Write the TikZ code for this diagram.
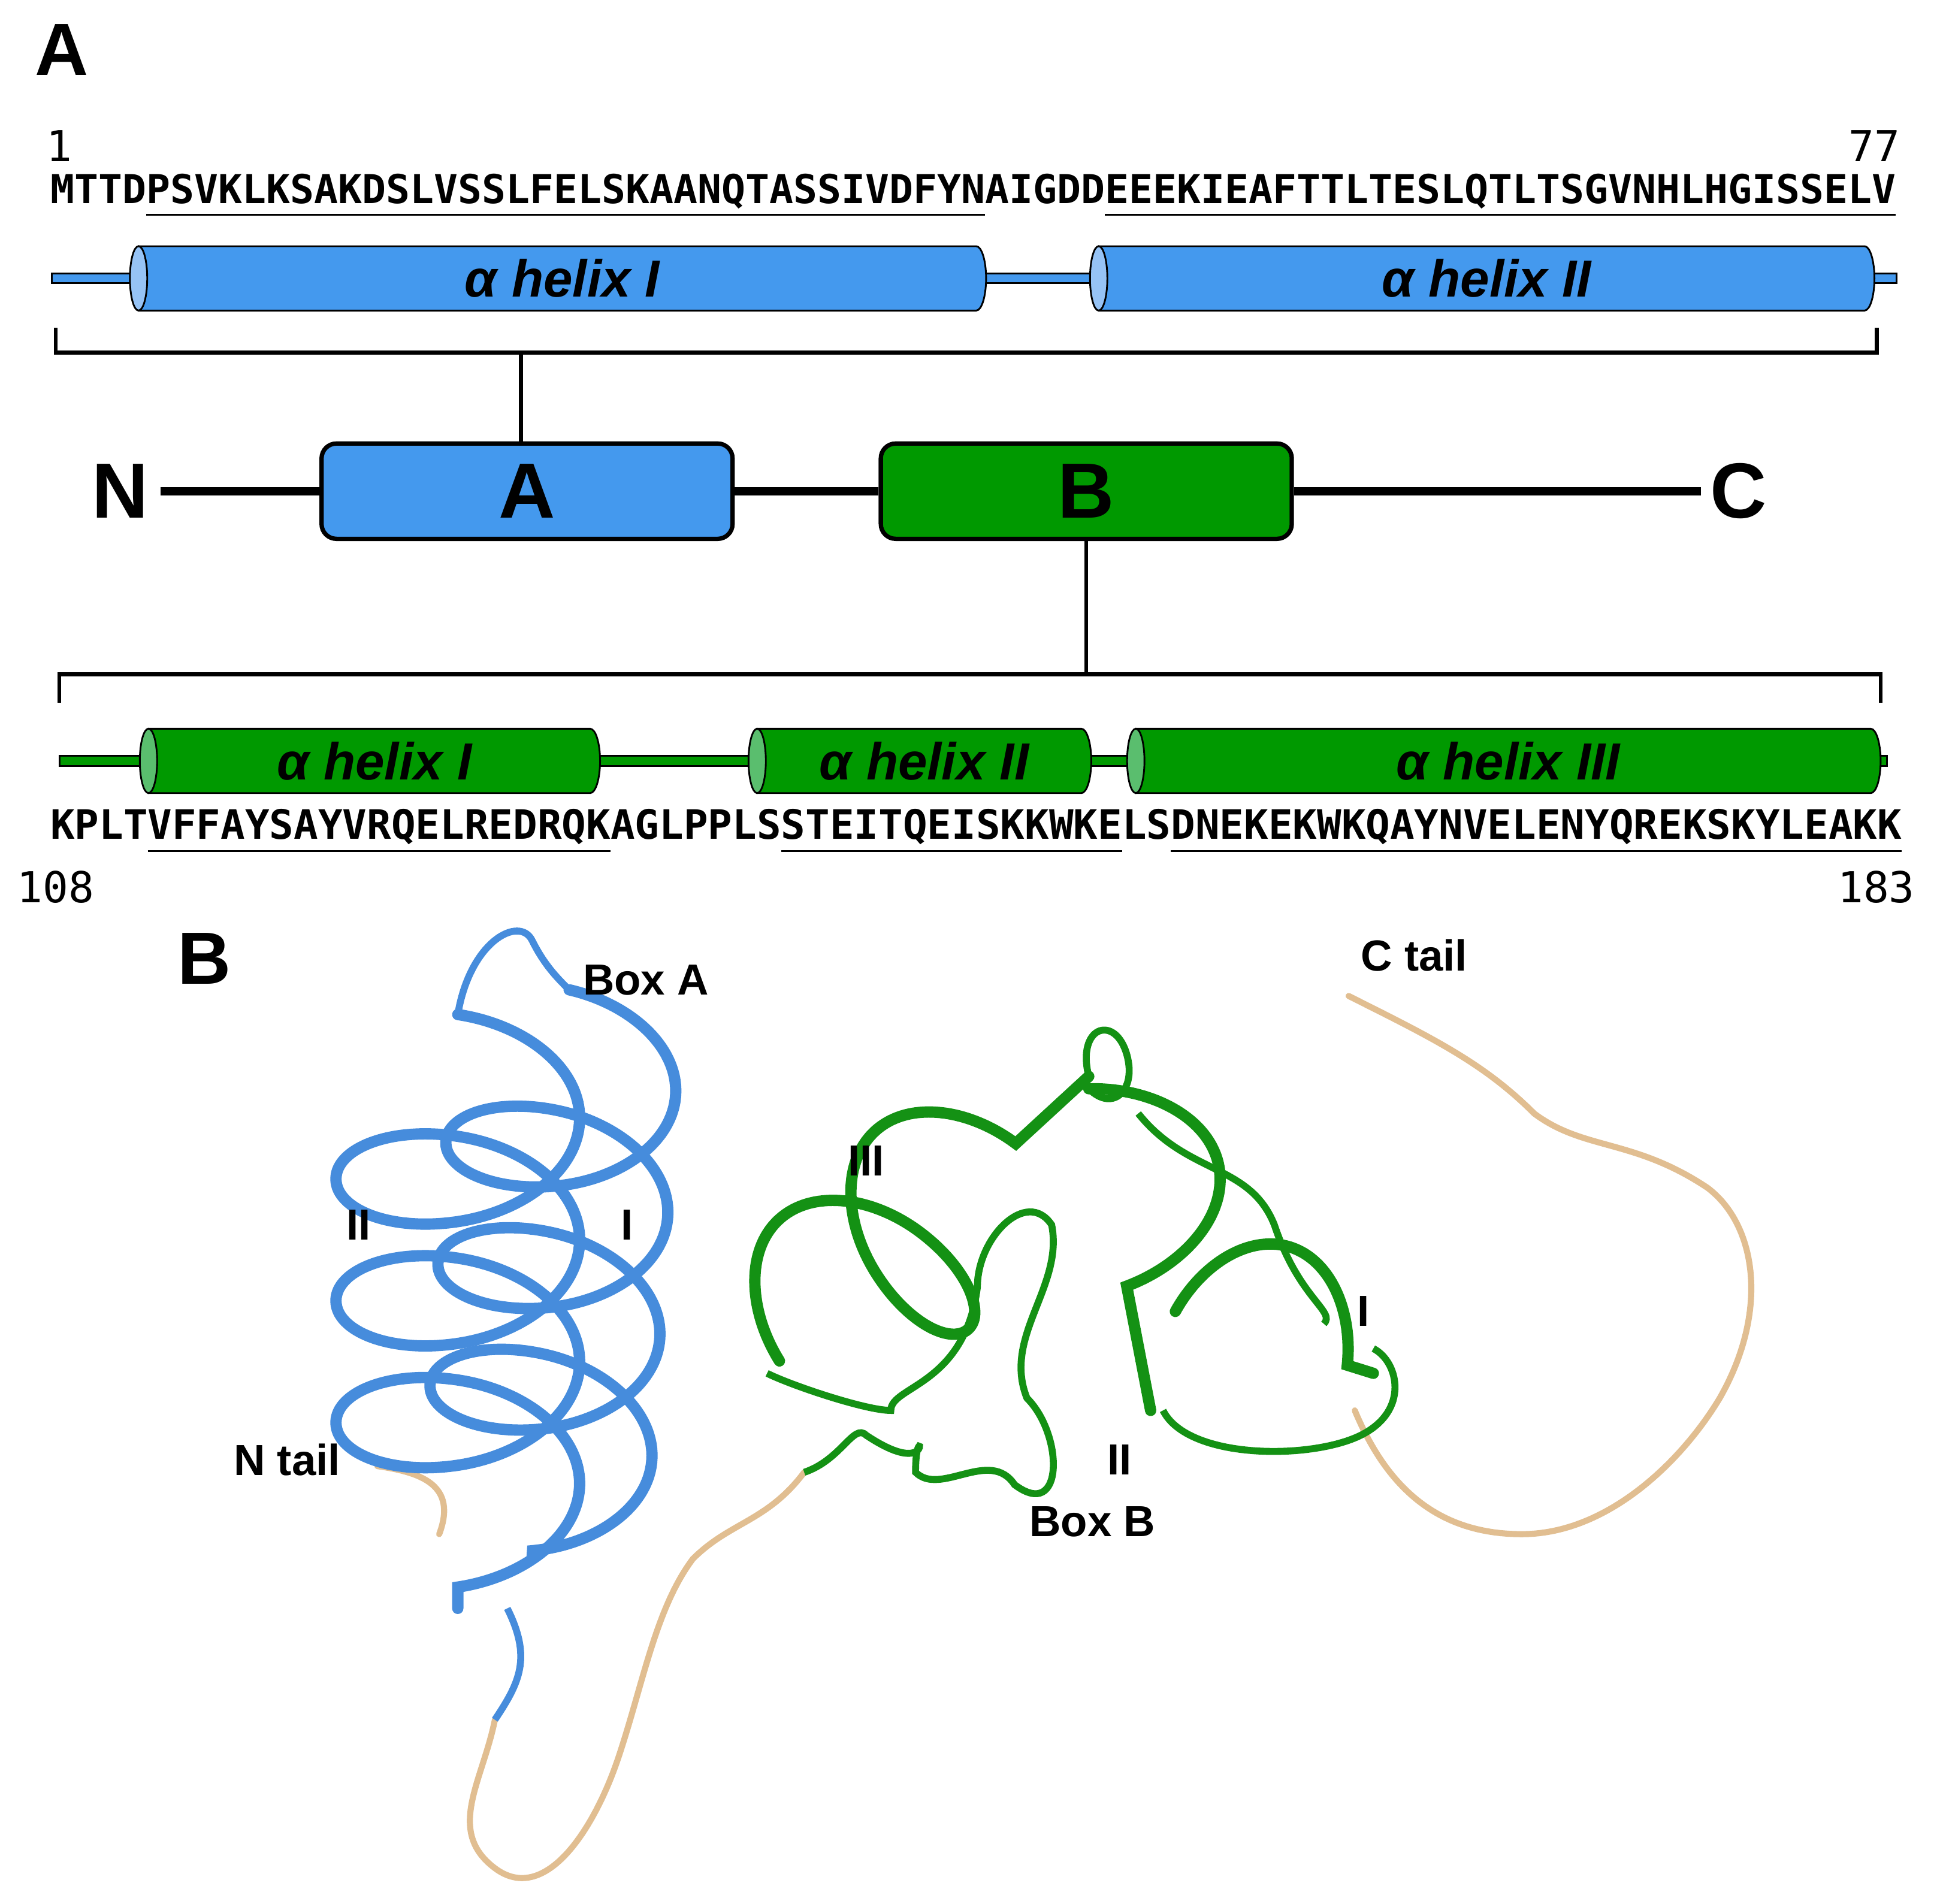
\documentclass[tikz,border=0pt]{standalone}
\usepackage{fontspec}
\setmainfont{Liberation Sans}
\newfontfamily\seqfont{DejaVu Sans Mono}
\usetikzlibrary{decorations.pathmorphing}
\definecolor{hblue}{RGB}{68,153,238}
\definecolor{lblue}{RGB}{150,195,245}
\definecolor{hgreen}{RGB}{0,153,0}
\definecolor{lgreen}{RGB}{90,190,110}
\definecolor{tanc}{RGB}{225,190,145}
\definecolor{pblue}{RGB}{70,140,220}
\definecolor{pgreen}{RGB}{20,145,20}
\newcommand\mycyl[7]{% x1,x2,yc,fill,light,label,name
  \draw[fill=#4,line width=0.4pt] (#1,#3-26) -- (#2-8,#3-26) arc[start angle=90,end angle=-90,x radius=0.08cm,y radius=0.26cm] -- (#1,#3+26) -- cycle;
  \draw[fill=#5,line width=0.4pt] (#1,#3) ellipse[x radius=0.07cm,y radius=0.26cm];
  \node[helixlab] (#7) at ({(#1+#2)/2},#3) {α helix #6};}
\begin{document}
\begin{tikzpicture}[x=0.01cm,y=-0.01cm,
  helixlab/.style={font=\fontsize{12}{14}\selectfont\bfseries\itshape},
  dom/.style={draw,line width=1pt,rounded corners=0.12cm,minimum width=3.32cm,minimum height=0.77cm,font=\fontsize{18}{20}\selectfont\bfseries},
  big/.style={font=\fontsize{18}{20}\selectfont\bfseries},
  lab/.style={font=\fontsize{10}{12}\selectfont\bfseries},
  num/.style={font=\seqfont\fontsize{9.8}{11}\selectfont},
  rod/.style={line width=0.4pt},
  brk/.style={line width=0.9pt},
  ribbon/.style={line width=2.6pt,line cap=round},
  tail/.style={draw=tanc,line width=1.4pt,line cap=round}]
\useasboundingbox (0,0) rectangle (1568,1538.5);
% Panel A
\node[font=\fontsize{17}{19}\selectfont\bfseries] (pa) at (50,40) {A};
\node[num] (n1) at (48,118) {1};
\node[num,anchor=east] (n77) at (1548,118) {77};
\node[font=\seqfont\bfseries\fontsize{9.15}{11}\selectfont,anchor=west,inner sep=0] (s1) at (40,158)
 {MTTD\underline{PSVKLKSAKDSLVSSLFELSKAANQTASSIVDFYN}AIGDD\underline{EEEKIEAFTTLTESLQTLTSGVNHLHGISSELV}};
% top helix bar
\draw[rod,fill=hblue] (42,221) rectangle (120,229);
\draw[rod,fill=hblue] (790,221) rectangle (892,229);
\draw[rod,fill=hblue] (1508,221) rectangle (1533,229);
\mycyl{112}{797}{225}{hblue}{lblue}{I}{ta1}
\mycyl{888}{1515}{225}{hblue}{lblue}{II}{ta2}
% bracket top
\draw[brk] (45,265) -- (45,285) -- (1517,285) -- (1517,265);
\coordinate (ta) at (421,285);
% domains
\node[big] (N) at (97,397) {N};
\node[big] (C) at (1405,397) {C};
\node[dom,fill=hblue] (A) at (426,397) {A};
\node[dom,fill=hgreen] (B) at (878,397) {B};
\draw[line width=2pt] (130,397) -- (A.west);
\draw[line width=2pt] (A.east) -- (B.west);
\draw[line width=2pt] (B.east) -- (1375,397);
\draw[brk] (ta) -- (A.north -| ta);
\coordinate (tb) at (878,545);
\draw[brk] (B.south) -- (tb);
\draw[brk] (48,568) -- (48,545) -- (1520,545) -- (1520,568);
% bottom helix bar
\draw[rod,fill=hgreen] (48,611) rectangle (128,619);
\draw[rod,fill=hgreen] (478,611) rectangle (618,619);
\draw[rod,fill=hgreen] (874,611) rectangle (922,619);
\draw[rod,fill=hgreen] (1512,611) rectangle (1525,619);
\mycyl{120}{485}{615}{hgreen}{lgreen}{I}{tb1}
\mycyl{612}{882}{615}{hgreen}{lgreen}{II}{tb2}
\mycyl{918}{1520}{615}{hgreen}{lgreen}{III}{tb3}
\node[font=\seqfont\bfseries\fontsize{9.3}{11}\selectfont,anchor=west,inner sep=0] (s2) at (40,672)
 {KPLT\underline{VFFAYSAYVRQELREDRQK}AGLPPLS\underline{STEITQEISKKWKE}LS\underline{DNEKEKWKQAYNVELENYQREKSKYLEAKK}};
\node[num] (n108) at (45,717) {108};
\node[num,anchor=east] (n183) at (1560,717) {183};
% Panel B
\node[font=\fontsize{17}{19}\selectfont\bfseries] (pb) at (165,775) {B};
% tails
\draw[tail] (305,1185) .. controls (340,1190) and (370,1200) .. (355,1240);
\draw[tail] (400,1390) .. controls (390,1440) and (360,1480) .. (400,1510) .. controls (440,1540) and (480,1480) .. (500,1420) .. controls (520,1360) and (530,1300) .. (560,1260) .. controls (590,1230) and (620,1230) .. (650,1190);
\draw[tail] (1095,1140) .. controls (1120,1200) and (1160,1240) .. (1230,1240) .. controls (1300,1240) and (1360,1180) .. (1390,1130) .. controls (1430,1060) and (1420,990) .. (1380,960) .. controls (1320,920) and (1280,930) .. (1240,900) .. controls (1200,860) and (1160,840) .. (1090,805);
% blue helices
\draw[pblue,ribbon,decorate,decoration={coil,aspect=0.6,segment length=28,amplitude=28}] (370,820) -- (370,1300);
\draw[pblue,ribbon,decorate,decoration={coil,aspect=0.6,segment length=28,amplitude=26}] (460,800) -- (430,1260);
\draw[pblue,line width=1.6pt] (410,1300) .. controls (430,1340) and (420,1360) .. (400,1390);
\draw[pblue,line width=1.6pt] (370,820) .. controls (380,760) and (420,740) .. (430,760) .. controls (440,780) and (450,790) .. (460,800);
% green
\draw[pgreen,line width=1.6pt] (650,1190) .. controls (680,1180) and (690,1150) .. (700,1160) .. controls (760,1200) and (740,1140) .. (740,1190) .. controls (760,1210) and (800,1170) .. (820,1200) .. controls (860,1230) and (860,1160) .. (830,1130) .. controls (810,1080) and (860,1040) .. (850,990) .. controls (830,960) and (790,1000) .. (790,1040) .. controls (780,1120) and (720,1120) .. (720,1140) .. controls (700,1140) and (640,1120) .. (620,1110);
\draw[pgreen,line width=1.6pt] (940,1140) .. controls (960,1180) and (1060,1180) .. (1100,1160) .. controls (1140,1140) and (1130,1100) .. (1110,1090);
\draw[pgreen,line width=1.6pt] (920,900) .. controls (960,950) and (1010,940) .. (1030,990) .. controls (1050,1050) and (1080,1060) .. (1070,1070);
\draw[pgreen,ribbon,decorate,decoration={coil,aspect=0.6,segment length=30,amplitude=24}] (630,1100) -- (880,870);
\draw[pgreen,ribbon,decorate,decoration={coil,aspect=0.6,segment length=30,amplitude=26}] (880,880) -- (930,1140);
\draw[pgreen,ribbon,decorate,decoration={coil,aspect=0.6,segment length=30,amplitude=22}] (950,1060) -- (1110,1110);
\draw[pgreen,line width=1.6pt] (880,870) .. controls (870,830) and (900,820) .. (910,850) .. controls (920,880) and (900,900) .. (880,880);
% labels
\node[lab] (boxa) at (522,792) {Box A};
\node[lab] (a2) at (290,990) {II};
\node[lab] (a1) at (507,990) {I};
\node[lab] (nt) at (232,1180) {N tail};
\node[lab] (ct) at (1143,772) {C tail};
\node[lab] (g3) at (700,938) {III};
\node[lab] (g1) at (1102,1060) {I};
\node[lab] (g2) at (905,1180) {II};
\node[lab] (boxb) at (883,1230) {Box B};
\end{tikzpicture}
\end{document}
